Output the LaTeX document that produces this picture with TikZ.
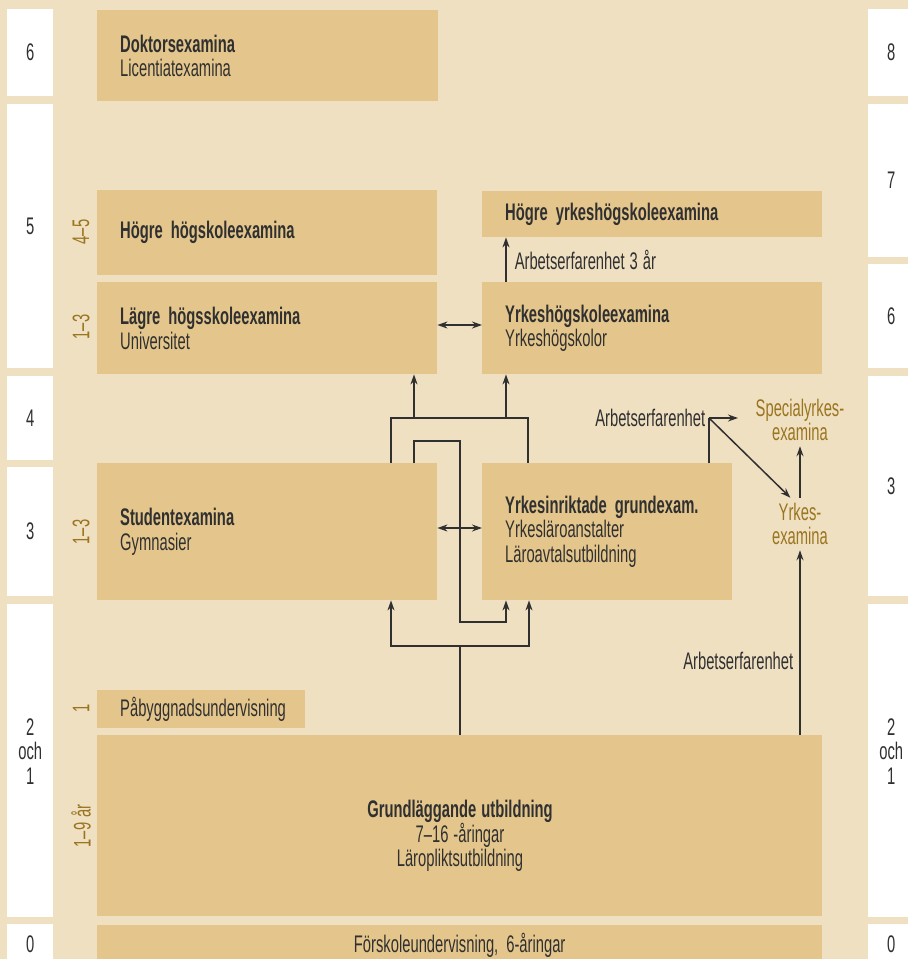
\documentclass[tikz,border=0pt]{standalone}
\usepackage{fontspec}
\setmainfont{Liberation Sans}[FakeStretch=0.615]
\usetikzlibrary{arrows.meta,calc}
\definecolor{bgbeige}{HTML}{F0E0C2}
\definecolor{boxgold}{HTML}{E4C68C}
\definecolor{yeargold}{HTML}{9A7520}
\definecolor{inkgray}{HTML}{303030}
\newcommand\figfont{\fontsize{24}{24.5}\selectfont\spaceskip=5pt plus 1pt minus 1pt\relax}

\begin{document}
\begin{tikzpicture}[
    x=1pt,y=-1pt,
    font=\figfont,
    >={Stealth[length=10pt,width=7pt]},
    box/.style={fill=boxgold,anchor=north west,inner xsep=23pt,inner ysep=0pt,align=left,text=inkgray},
    lvl/.style={fill=white,anchor=north west,minimum width=46pt,inner sep=0pt,align=center,text=inkgray},
    years/.style={rotate=90,text=yeargold,inner sep=0pt},
    link/.style={draw=inkgray,line width=1.5pt},
    exam/.style={text=yeargold,align=center,inner sep=5pt},
    note/.style={text=inkgray,inner sep=5pt},
]
\fill[bgbeige] (0,0) rectangle (908,959);
\useasboundingbox (0,0) rectangle (908,959);

% level columns
\node[lvl,minimum height=87pt]  (l6)  at (7,9)   {6};
\node[lvl,minimum height=264pt] (l5)  at (7,104) {5\\[-4pt]};
\node[lvl,minimum height=84pt]  (l4)  at (7,376) {4};
\node[lvl,minimum height=129pt] (l3)  at (7,467) {3};
\node[lvl,minimum height=313pt] (l21) at (7,604) {2\\och\\1\\[-6pt]};
\node[lvl,minimum height=40pt]  (l0)  at (7,924) {0};
\node[lvl,minimum height=87pt]  (r8)  at (868,9)   {8};
\node[lvl,minimum height=153pt] (r7)  at (868,104) {7};
\node[lvl,minimum height=104pt] (r6)  at (868,264) {6};
\node[lvl,minimum height=220pt] (r3)  at (868,376) {3};
\node[lvl,minimum height=313pt] (r21) at (868,604) {2\\och\\1\\[-6pt]};
\node[lvl,minimum height=40pt]  (r0)  at (868,924) {0};

% boxes
\node[box,minimum width=341pt,minimum height=91pt,text width=295pt] (dok) at (97,10)
    {\textbf{Doktorsexamina}\\Licentiatexamina};
\node[box,minimum width=340pt,minimum height=85pt,text width=294pt] (hhs) at (97,190)
    {\textbf{Högre högskoleexamina}};
\node[box,minimum width=340pt,minimum height=92pt,text width=294pt] (lhs) at (97,282)
    {\textbf{Lägre högsskoleexamina}\\Universitet};
\node[box,minimum width=340pt,minimum height=46pt,text width=294pt] (hyh) at (482,191)
    {\textbf{Högre yrkeshögskoleexamina}};
\node[box,minimum width=340pt,minimum height=92pt,text width=294pt] (yhs) at (482,282)
    {\textbf{Yrkeshögskoleexamina}\\Yrkeshögskolor};
\node[box,minimum width=340pt,minimum height=137pt,text width=294pt] (stud) at (97,463)
    {\textbf{Studentexamina}\\Gymnasier};
\node[box,minimum width=250pt,minimum height=137pt,text width=204pt] (yrk) at (482,463)
    {\textbf{Yrkesinriktade grundexam.}\\Yrkesläroanstalter\\Läroavtalsutbildning};
\node[box,minimum width=208pt,minimum height=38pt,text width=162pt] (pab) at (97,690)
    {Påbyggnadsundervisning};
\node[box,minimum width=725pt,minimum height=181pt] (grund) at (97,735) {};
\node[align=center,text=inkgray] (grundtxt) at (460,836)
    {\textbf{Grundläggande utbildning}\\7–16 -åringar\\Läropliktsutbildning};
\node[box,minimum width=725pt,minimum height=40pt,text width=679pt,align=center] (forsk) at (97,925)
    {Förskoleundervisning, 6-åringar\\[-6pt]};

% study years
\node[years] (y45)  at (81,232) {4–5};
\node[years] (y13a) at (81,327) {1–3};
\node[years] (y13b) at (81,532) {1–3};
\node[years] (y1)   at (81,708) {1};
\node[years] (y19)  at (81,826) {1–9 år};

% vocational exams
\node[exam] (syex) at (800,420) {Specialyrkes-\\examina};
\node[exam] (yex)  at (800,524) {Yrkes-\\examina};

% junctions
\coordinate (kA) at (391,418);
\coordinate (kB) at (528,418);
\coordinate (kL) at (414,418);
\coordinate (kY) at (506,418);
\coordinate (kC) at (414,441);
\coordinate (kD) at (460,441);
\coordinate (kF) at (506,622);
\coordinate (kG) at (460,646);
\coordinate (kH) at (391,646);
\coordinate (kI) at (529,646);
\coordinate (kW) at (709,418);

% links
\draw[link] (stud.north -| kA) |- (kB) -- (yrk.north -| kB);
\draw[link,->] (kL) -- (lhs.south -| kL);
\draw[link,->] (kY) -- (yhs.south -| kY);
\draw[link,->] (stud.north -| kC) |- (kD) |- (kF) -- (yrk.south -| kF);
\draw[link] (grund.north -| kG) -- (kG);
\draw[link,->] (kG) -| (stud.south -| kH);
\draw[link,->] (kG) -| (yrk.south -| kI);
\draw[link,<->] (lhs.east |- 0,325) -- (yhs.west |- 0,325);
\draw[link,<->] (stud.east |- 0,528) -- (yrk.west |- 0,528);
\draw[link,->] (yhs.north -| kY) -- (hyh.south -| kY)
    node[note,midway,right,inner xsep=8pt] {Arbetserfarenhet 3 år};
\draw[link] (yrk.north -| kW) -- (kW)
    node[note,left,inner xsep=3pt] (arb1) {Arbetserfarenhet};
\draw[link,->] (kW) -- ++(29,0);
\draw[link,->] (kW) -- (yex.110);
\draw[link,->] (yex.north) -- (syex.south);
\draw[link,->] (grund.north -| yex) -- (yex.south)
    node[note,pos=0.4,left,inner xsep=6pt] (arb2) {Arbetserfarenhet};
\end{tikzpicture}
\end{document}
